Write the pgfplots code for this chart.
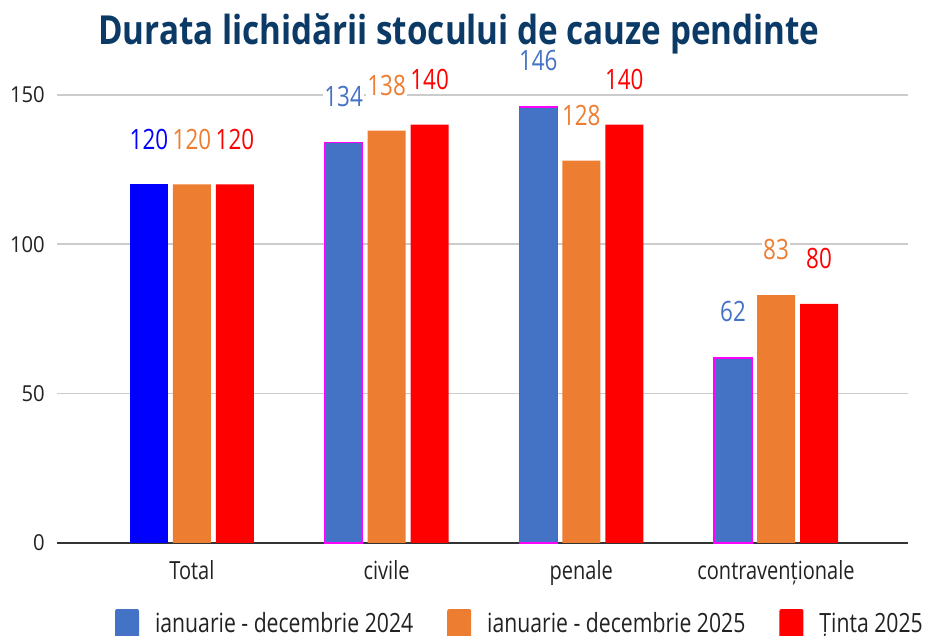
\documentclass[border=0pt]{standalone}
\usepackage{fontspec}
\setmainfont{Open Sans}[FakeStretch=0.8]
\newfontfamily\tickfont{Open Sans}[FakeStretch=0.92]
\newfontfamily\titlefont{Open Sans}[FakeStretch=0.83]
\usepackage{pgfplots}
\pgfplotsset{compat=1.18}
\definecolor{cA}{HTML}{4472C4}
\definecolor{cB}{HTML}{ED7D31}
\definecolor{cC}{HTML}{FF0000}
\definecolor{cT}{HTML}{0000FF}
\definecolor{cM}{HTML}{FF00FF}
\definecolor{titleblue}{HTML}{0B3A66}
\definecolor{txt}{HTML}{222222}
\begin{document}
\begin{tikzpicture}[x=1pt,y=1pt]
\useasboundingbox (0,0) rectangle (926,636);
\node[font=\titlefont\bfseries\fontsize{40}{48}\selectfont, text=titleblue, anchor=base, inner sep=0pt] at (459,591) {Durata lichidării stocului de cauze pendinte};
\begin{axis}[
  at={(57pt,93pt)}, anchor=south west,
  scale only axis, width=851pt, height=478pt,
  xmin=-0.693, xmax=3.678, ymin=0, ymax=160,
  clip=false,
  axis line style={draw=none},
  major tick length=0pt,
  /pgf/number format/assume math mode=true,
  ytick={50,100,150},
  extra y ticks={0},
  extra y tick style={grid style={line width=2.5pt, color=black!80}},
  ymajorgrids,
  grid style={line width=1.5pt, color=black!20},
  yticklabel style={font=\tickfont\fontsize{22}{26}\selectfont, text=txt, inner sep=0pt, xshift=-12pt},
  xtick={0,1,2,3},
  xticklabels={Total,civile,penale,contravenționale},
  xticklabel style={font=\fontsize{25}{30}\selectfont, text=txt, anchor=base, inner sep=0pt, yshift=-37pt},
  ybar=5pt, bar width=38pt,
  nodes near coords,
  every node near coord/.append style={font=\fontsize{28}{32}\selectfont, inner ysep=0pt, inner xsep=1pt, fill=white, yshift=35pt},
  legend image code/.code={\fill[#1,draw=none,rounded corners=2pt] (0pt,-10pt) rectangle (24pt,23pt);},
  legend style={at={(0.0682,-0.1381)}, anchor=north west, draw=none, fill=none, inner sep=0pt, outer sep=0pt,
    font=\fontsize{26.5}{32}\selectfont, text=txt,
    nodes={inner sep=0pt, anchor=base west},
    /tikz/every odd column/.append style={column sep=16pt},
    /tikz/every even column/.append style={column sep=34pt}},
  legend cell align=left,
  legend columns=3,
]
\addplot[fill=cA, draw=cM, line width=1.5pt, bar shift=-43pt,
  every node near coord/.append style={text=cA}] coordinates {(1,134) (2,146) (3,62)};
\addplot[fill=cT, draw=none, bar shift=-43pt, forget plot,
  every node near coord/.append style={text=cT}] coordinates {(0,120)};
\addplot[fill=cB, draw=none, bar shift=0pt,
  every node near coord/.append style={text=cB}] coordinates {(0,120) (1,138) (2,128) (3,83)};
\addplot[fill=cC, draw=none, bar shift=43pt,
  every node near coord/.append style={text=cC}] coordinates {(0,120) (1,140) (2,140) (3,80)};
\legend{ianuarie - decembrie 2024, ianuarie - decembrie 2025, Ținta 2025}
\end{axis}
\end{tikzpicture}
\end{document}
